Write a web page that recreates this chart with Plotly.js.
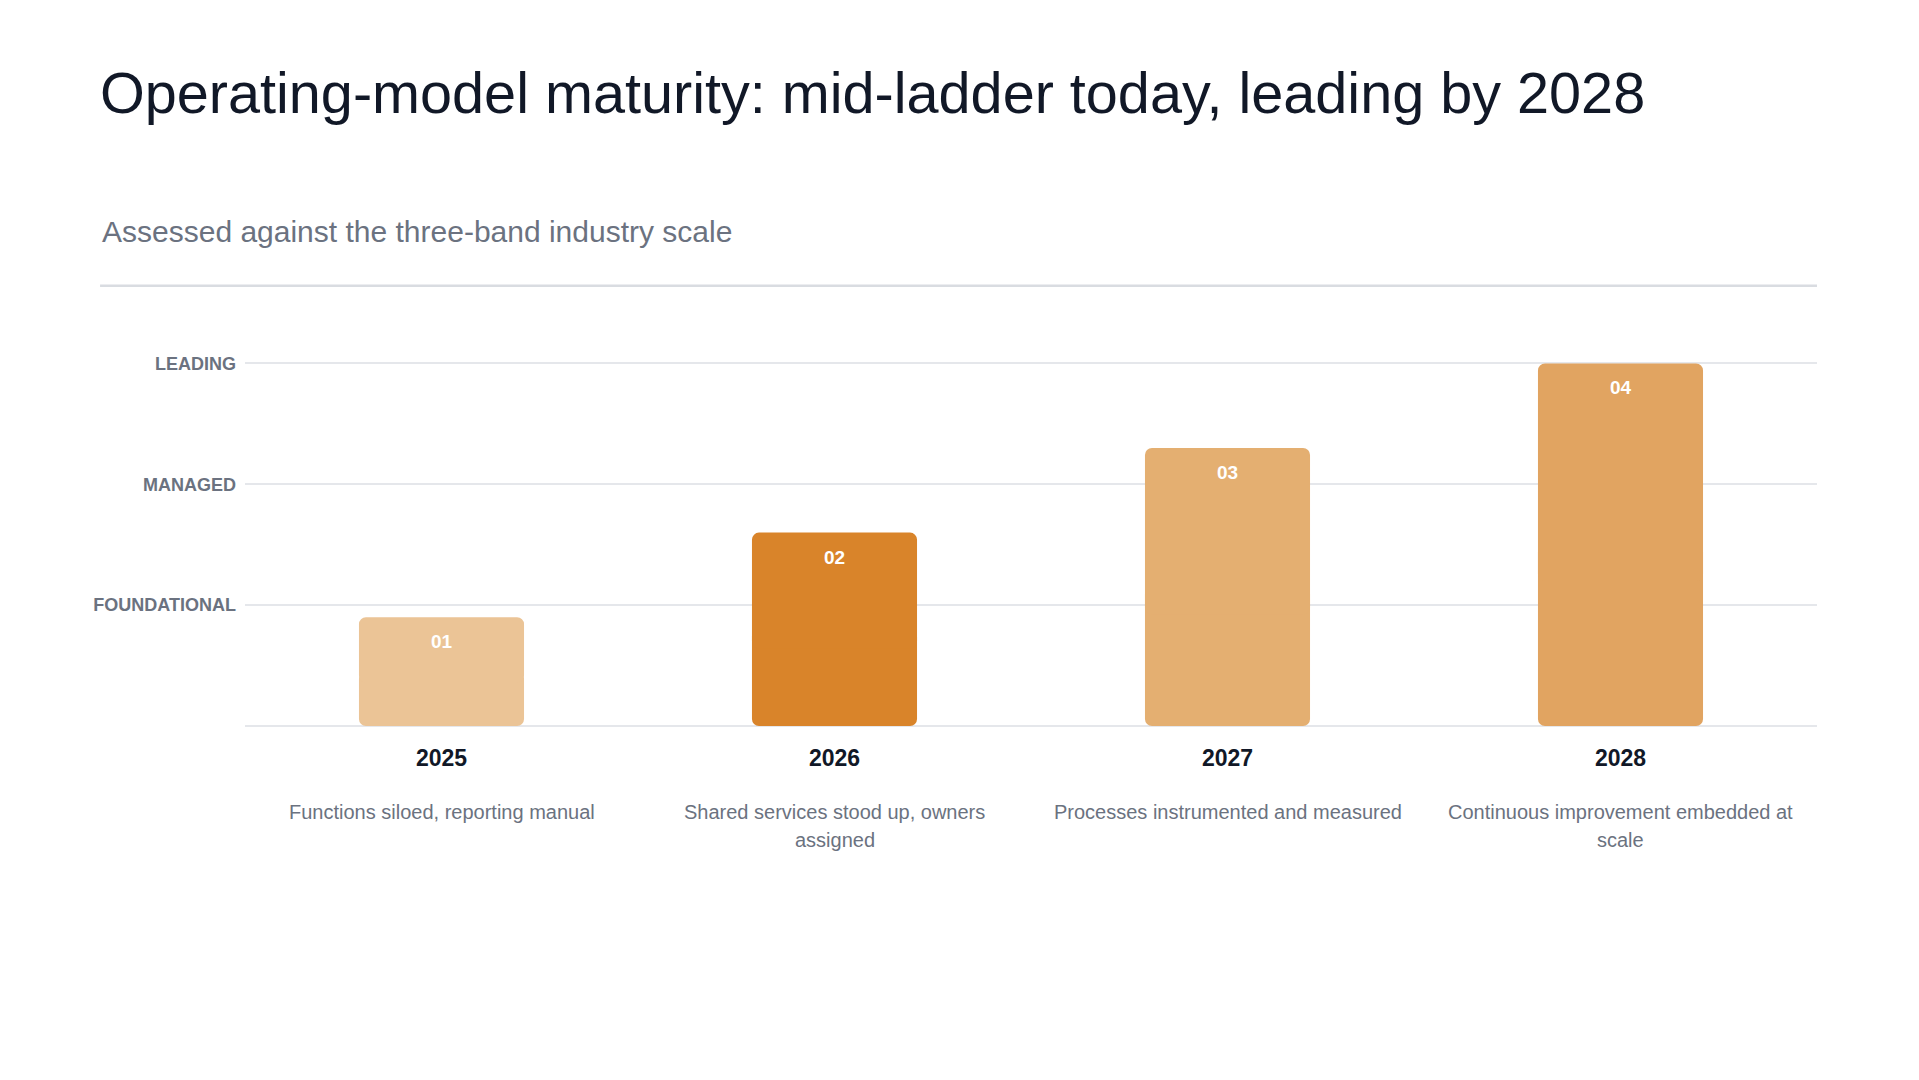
<!DOCTYPE html>
<html>
<head>
<meta charset="utf-8">
<script src="https://cdn.plot.ly/plotly-3.0.1.min.js"></script>
<style>
  html, body { margin: 0; padding: 0; background: #ffffff; }
  #chart { width: 1919px; height: 1080px; }
</style>
</head>
<body>
<div id="chart"></div>
<script>
// Maturity ladder: 0 = baseline, 1 = Foundational, 2 = Managed, 3 = Leading
const years = ['2025', '2026', '2027', '2028'];
const maturity = [0.9, 1.6, 2.3, 3.0];
const stepLabels = ['01', '02', '03', '04'];
const barColors = ['#ebc496', '#d9842a', '#e4af71', '#e1a461'];
const descriptions = [
  'Functions siloed, reporting manual',
  'Shared services stood up, owners<br>assigned',
  'Processes instrumented and measured',
  'Continuous improvement embedded at<br>scale'
];
const bandValues = [0, 1, 2, 3];
const bandLabels = ['', 'FOUNDATIONAL', 'MANAGED', 'LEADING'];

const FONT = 'Liberation Sans, Arial, Helvetica, sans-serif';
const RADIUS = 7;
const DESC_LINE_HEIGHT = 28;

// Each column is drawn as two overlapping halves so that both the top
// and bottom corners come out rounded.
const lowerHalf = {
  type: 'bar',
  x: years,
  base: maturity.map(v => v * 0.5),
  y: maturity.map(v => -v * 0.5),
  width: 0.42,
  marker: { color: barColors, cornerradius: RADIUS, line: { width: 0 } },
  hoverinfo: 'skip',
  showlegend: false
};
const upperHalf = {
  type: 'bar',
  x: years,
  base: maturity.map(v => v * 0.4),
  y: maturity.map(v => v * 0.6),
  width: 0.42,
  marker: { color: barColors, cornerradius: RADIUS, line: { width: 0 } },
  hoverinfo: 'skip',
  showlegend: false
};

// Category positions are addressed by index so numeric-looking year
// names are not read as raw coordinates.
const annotations = [];
years.forEach((yr, i) => {
  annotations.push({
    xref: 'x', yref: 'y', x: i, y: maturity[i],
    yanchor: 'top', yshift: -12, showarrow: false,
    text: '<b>' + stepLabels[i] + '</b>',
    font: { family: FONT, size: 19, color: '#ffffff' }
  });
  // Description lines are placed one by one for a looser line height.
  descriptions[i].split('<br>').forEach((line, k) => {
    annotations.push({
      xref: 'x', yref: 'paper', x: i, y: 0,
      yanchor: 'top', yshift: -73 - k * DESC_LINE_HEIGHT, showarrow: false,
      text: line, align: 'center',
      font: { family: FONT, size: 20, color: '#6b7280' }
    });
  });
});

annotations.push({
  xref: 'paper', yref: 'paper', x: -0.0922, y: 1.355,
  xanchor: 'left', yanchor: 'middle', showarrow: false,
  text: 'Assessed against the three-band industry scale',
  font: { family: FONT, size: 30, color: '#6b7280' }
});

const layout = {
  width: 1919,
  height: 1080,
  paper_bgcolor: '#ffffff',
  plot_bgcolor: '#ffffff',
  margin: { l: 245, r: 102, t: 361, b: 354, pad: 0 },
  barmode: 'overlay',
  font: { family: FONT },
  title: {
    text: 'Operating-model maturity: mid-ladder today, leading by 2028',
    xref: 'container', yref: 'container',
    x: 0.0521, xanchor: 'left',
    y: 0.914, yanchor: 'middle',
    font: { family: FONT, size: 57.6, color: '#111827' }
  },
  xaxis: {
    type: 'category',
    range: [-0.5, 3.5],
    showgrid: false,
    zeroline: false,
    showline: false,
    ticks: '',
    ticklabelstandoff: 16,
    tickfont: { family: FONT, size: 23, color: '#111827', weight: 'bold' }
  },
  yaxis: {
    range: [0, 3.02],
    tickmode: 'array',
    tickvals: bandValues,
    ticktext: bandLabels,
    showgrid: true,
    gridcolor: '#e5e7eb',
    gridwidth: 2,
    zeroline: true,
    zerolinecolor: '#e5e7eb',
    zerolinewidth: 2.5,
    showline: false,
    ticks: '',
    ticklabelstandoff: 8,
    tickfont: { family: FONT, size: 18, color: '#6b7280', weight: 'bold' }
  },
  shapes: [{
    type: 'line', xref: 'paper', yref: 'paper',
    x0: -0.0922, x1: 1, y0: 1.206, y1: 1.206,
    line: { color: '#d9dce1', width: 2.5 }
  }],
  annotations: annotations
};

Plotly.newPlot('chart', [lowerHalf, upperHalf], layout, { displayModeBar: false, staticPlot: true });
</script>
</body>
</html>
